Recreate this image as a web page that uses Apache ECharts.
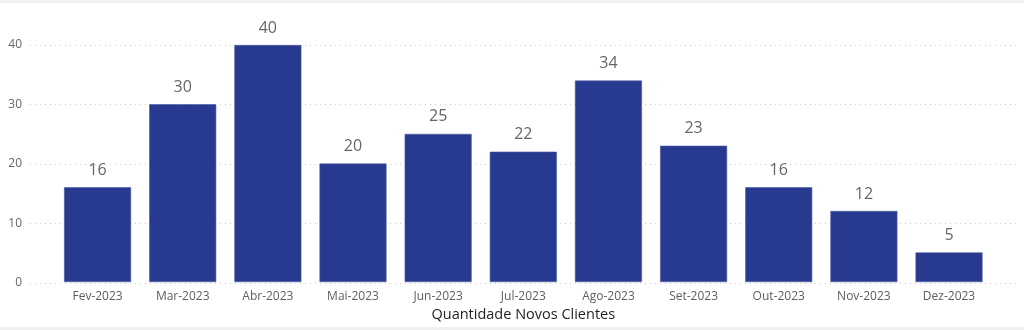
<!DOCTYPE html>
<html>
<head>
<meta charset="utf-8">
<script src="https://cdn.jsdelivr.net/npm/echarts@6/dist/echarts.min.js"></script>
<style>
  html, body { margin: 0; padding: 0; background: #f0f0f0; }
  #chart { position: absolute; left: 0; top: 3px; width: 1024px; height: 324px; background: #ffffff; }
</style>
</head>
<body>
<div id="chart"></div>
<script>
// Monthly new clients, 2023
const months = ['Fev-2023', 'Mar-2023', 'Abr-2023', 'Mai-2023', 'Jun-2023', 'Jul-2023',
                'Ago-2023', 'Set-2023', 'Out-2023', 'Nov-2023', 'Dez-2023'];
const newClients = [16, 30, 40, 20, 25, 22, 34, 23, 16, 12, 5];
const yTicks = [0, 10, 20, 30, 40];

const chart = echarts.init(document.getElementById('chart'), null, { renderer: 'canvas' });

const yMin = yTicks[0];
const yMax = yTicks[yTicks.length - 1];
const yStep = yTicks[1] - yTicks[0];

chart.setOption({
  animation: false,
  textStyle: { fontFamily: '"Open Sans", "DejaVu Sans", sans-serif' },
  grid: [
    // wide grid: carries the value axis labels and dotted gridlines
    { left: 30, right: 7, top: 42, bottom: 44 },
    // inner grid: carries the bars and month labels
    { left: 55, right: 32.4, top: 42, bottom: 44 }
  ],
  xAxis: [
    { gridIndex: 0, type: 'category', data: months, show: false },
    {
      gridIndex: 1,
      type: 'category',
      data: months,
      axisLine: { show: false },
      axisTick: { show: false },
      axisLabel: { color: '#605e5c', fontSize: 12, margin: 8, fontFamily: '"Open Sans", sans-serif' },
      name: 'Quantidade Novos Clientes',
      nameLocation: 'middle',
      nameGap: 23,
      nameTextStyle: { color: '#252423', fontSize: 14.5, fontFamily: '"Open Sans", sans-serif' }
    }
  ],
  yAxis: [
    {
      gridIndex: 0,
      type: 'value',
      min: yMin,
      max: yMax,
      interval: yStep,
      axisLine: { show: false },
      axisTick: { show: false },
      axisLabel: { color: '#666666', fontSize: 12, margin: 8 },
      splitLine: { show: true, lineStyle: { color: '#c8c8c8', type: [1, 4], width: 1 } }
    },
    {
      gridIndex: 1,
      type: 'value',
      min: yMin,
      max: yMax,
      interval: yStep,
      show: false,
      splitLine: { show: false }
    }
  ],
  series: [
    {
      type: 'bar',
      xAxisIndex: 1,
      yAxisIndex: 1,
      data: newClients,
      barWidth: 67,
      itemStyle: { color: '#283a8f', borderColor: '#4a58a4', borderWidth: 0.6 },
      label: {
        show: true,
        position: 'top',
        distance: 9,
        color: '#666666',
        fontSize: 16,
        fontFamily: '"Open Sans", sans-serif'
      }
    }
  ]
});
</script>
</body>
</html>
